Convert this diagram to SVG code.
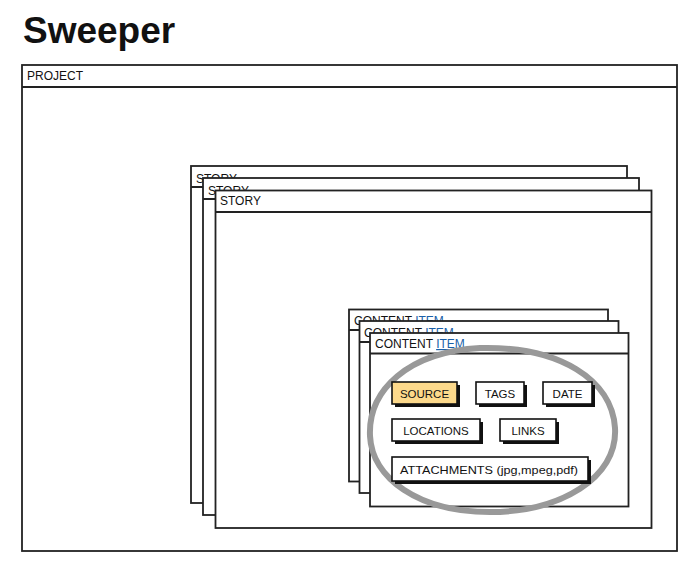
<svg xmlns="http://www.w3.org/2000/svg" width="700" height="571" viewBox="0 0 700 571">
<style>
.frame{fill:#fff;stroke:#222;stroke-width:1.8}
.bar{fill:none;stroke:#222;stroke-width:1.8}
.lbl{font-family:"Liberation Sans",Arial,sans-serif;font-size:12px;fill:#111}
.btn{stroke:#111;stroke-width:1.6}
.shadow{fill:#111}
.btxt{font-family:"Liberation Sans",Arial,sans-serif;font-size:11.5px;fill:#111;text-anchor:middle}
.link{fill:#1a5fa8;text-decoration:underline}
</style>
<rect width="700" height="571" fill="#fff"/>
<text x="23" y="43" font-family="Liberation Sans, Arial, sans-serif" font-size="37" font-weight="bold" fill="#111">Sweeper</text>

<g id="project">
<rect class="frame" x="22" y="65" width="655" height="486"/>
<line class="bar" x1="22" y1="87" x2="677" y2="87"/>
<text class="lbl" x="27" y="80" font-size="11">PROJECT</text>
</g>

<g id="story1">
<rect class="frame" x="191" y="166" width="436" height="337"/>
<line class="bar" x1="191" y1="187" x2="627" y2="187"/>
<text class="lbl" x="196" y="183">STORY</text>
</g>
<g id="story2">
<rect class="frame" x="203" y="178" width="436" height="337"/>
<line class="bar" x1="203" y1="199" x2="639" y2="199"/>
<text class="lbl" x="208" y="195">STORY</text>
</g>
<g id="story3">
<rect class="frame" x="215.5" y="190.5" width="436" height="337.5"/>
<line class="bar" x1="215.5" y1="212" x2="651.5" y2="212"/>
<text class="lbl" x="220" y="205">STORY</text>
</g>

<g id="content1">
<rect class="frame" x="349" y="309.5" width="259" height="172"/>
<line class="bar" x1="349" y1="330" x2="608" y2="330"/>
<text class="lbl" x="354" y="325" font-size="11.5">CONTENT <tspan class="link">ITEM</tspan></text>
</g>
<g id="content2">
<rect class="frame" x="359.5" y="321" width="259" height="172"/>
<line class="bar" x1="359.5" y1="342" x2="618.5" y2="342"/>
<text class="lbl" x="364" y="337" font-size="11.5">CONTENT <tspan class="link">ITEM</tspan></text>
</g>
<g id="content3">
<rect class="frame" x="370" y="333" width="258.5" height="173.5"/>
<line class="bar" x1="370" y1="353.5" x2="628.5" y2="353.5"/>
<text class="lbl" x="375" y="348" font-size="11.5">CONTENT <tspan class="link">ITEM</tspan></text>
</g>

<g id="highlight">
<path d="M 480 348 C 560 346 612 380 615 428 C 618 478 560 512 490 512 C 418 512 372 478 370 436 C 368 390 408 352 480 348 Z" fill="none" stroke="#999" stroke-width="6"/>
</g>

<g id="source">
<rect class="shadow" x="395" y="385" width="65" height="22"/>
<rect class="btn" x="392" y="382" width="65" height="22" fill="#fcd98b"/>
<text class="btxt" x="424.5" y="397.5">SOURCE</text>
</g>
<g id="tags">
<rect class="shadow" x="479" y="385" width="48" height="22"/>
<rect class="btn" x="476" y="382" width="48" height="22" fill="#fff"/>
<text class="btxt" x="500" y="397.5">TAGS</text>
</g>
<g id="date">
<rect class="shadow" x="546" y="385" width="49" height="22"/>
<rect class="btn" x="543" y="382" width="49" height="22" fill="#fff"/>
<text class="btxt" x="567.5" y="397.5">DATE</text>
</g>
<g id="locations">
<rect class="shadow" x="395" y="422" width="88" height="22"/>
<rect class="btn" x="392" y="419" width="88" height="22" fill="#fff"/>
<text class="btxt" x="436" y="434.5">LOCATIONS</text>
</g>
<g id="links">
<rect class="shadow" x="503" y="422" width="56" height="22"/>
<rect class="btn" x="500" y="419" width="56" height="22" fill="#fff"/>
<text class="btxt" x="528" y="434.5">LINKS</text>
</g>
<g id="attachments">
<rect class="shadow" x="395" y="460" width="196" height="24"/>
<rect class="btn" x="392" y="457" width="196" height="24" fill="#fff"/>
<text class="btxt" x="489" y="473.5" textLength="178" lengthAdjust="spacingAndGlyphs">ATTACHMENTS (jpg,mpeg,pdf)</text>
</g>
<g id="connectors"></g>
</svg>
